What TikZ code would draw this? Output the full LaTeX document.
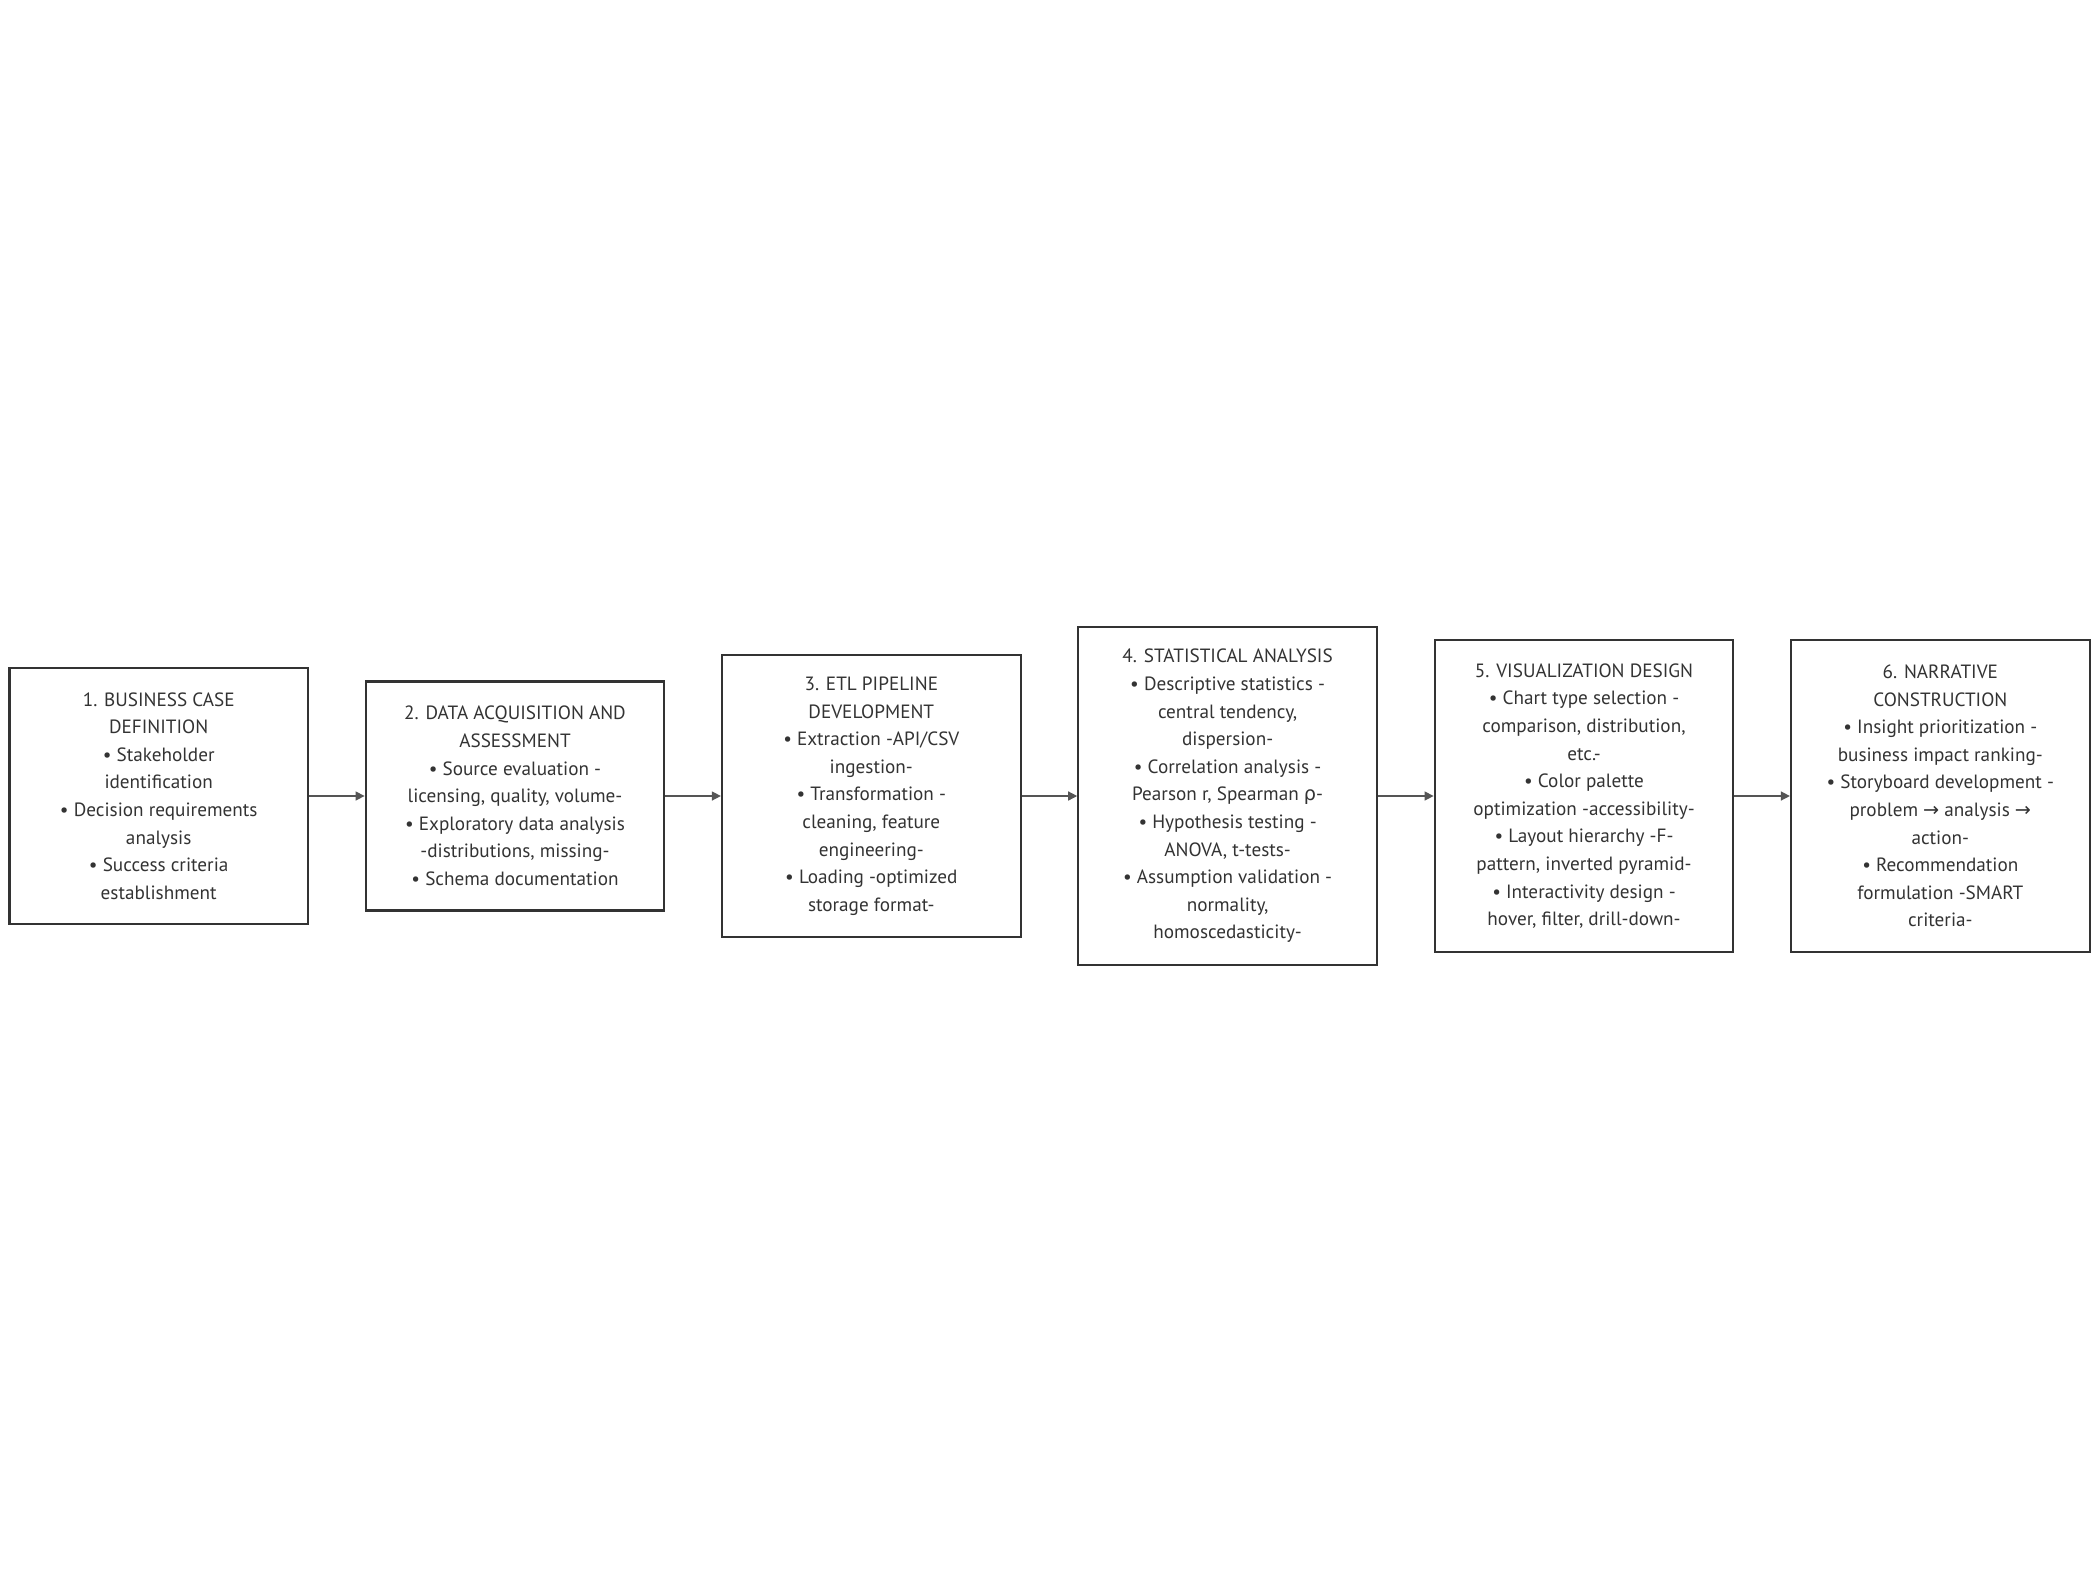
\documentclass[tikz,border=0pt]{standalone}
\usepackage{fontspec}
\setmainfont{PT Sans}
\newfontfamily\symfont{DejaVu Sans}
\usetikzlibrary{arrows.meta}
\definecolor{ink}{HTML}{333333}
\definecolor{edge}{HTML}{555555}
\begin{document}
\begin{tikzpicture}[x=0.5pt,y=-0.5pt,
  stage/.style={draw=ink, line width=1.1pt, fill=white, text=ink, align=center,
    minimum width=149.3pt, inner sep=0pt, font=\fontsize{9.6}{13.8}\selectfont},
  flow/.style={draw=edge, line width=0.7pt, -{Triangle[length=4.5pt,width=4.5pt]}}]
\useasboundingbox (0,0) rectangle (2100,1592);
\node[stage, minimum height=128pt] (s1) at (158.7,796) {1. BUSINESS CASE\\DEFINITION\\• Stakeholder\\identification\\• Decision requirements\\analysis\\• Success criteria\\establishment};
\node[stage, minimum height=114.5pt] (s2) at (515,796) {2. DATA ACQUISITION AND\\ASSESSMENT\\• Source evaluation -\\licensing, quality, volume-\\• Exploratory data analysis\\-distributions, missing-\\• Schema documentation};
\node[stage, minimum height=141pt] (s3) at (871.3,796) {3. ETL PIPELINE\\DEVELOPMENT\\• Extraction -API/CSV\\ingestion-\\• Transformation -\\cleaning, feature\\engineering-\\• Loading -optimized\\storage format-};
\node[stage, minimum height=169pt] (s4) at (1227.6,796) {4. STATISTICAL ANALYSIS\\• Descriptive statistics -\\central tendency,\\dispersion-\\• Correlation analysis -\\Pearson r, Spearman {\symfont ρ}-\\• Hypothesis testing -\\ANOVA, t-tests-\\• Assumption validation -\\normality,\\homoscedasticity-};
\node[stage, minimum height=156pt] (s5) at (1584,796) {5. VISUALIZATION DESIGN\\• Chart type selection -\\comparison, distribution,\\etc.-\\• Color palette\\optimization -accessibility-\\• Layout hierarchy -F-\\pattern, inverted pyramid-\\• Interactivity design -\\hover, filter, drill-down-};
\node[stage, minimum height=156pt] (s6) at (1940.3,796) {6. NARRATIVE\\CONSTRUCTION\\• Insight prioritization -\\business impact ranking-\\• Storyboard development -\\problem {\symfont →} analysis {\symfont →}\\action-\\• Recommendation\\formulation -SMART\\criteria-};
\draw[flow] (s1) -- (s2);
\draw[flow] (s2) -- (s3);
\draw[flow] (s3) -- (s4);
\draw[flow] (s4) -- (s5);
\draw[flow] (s5) -- (s6);
\end{tikzpicture}
\end{document}
